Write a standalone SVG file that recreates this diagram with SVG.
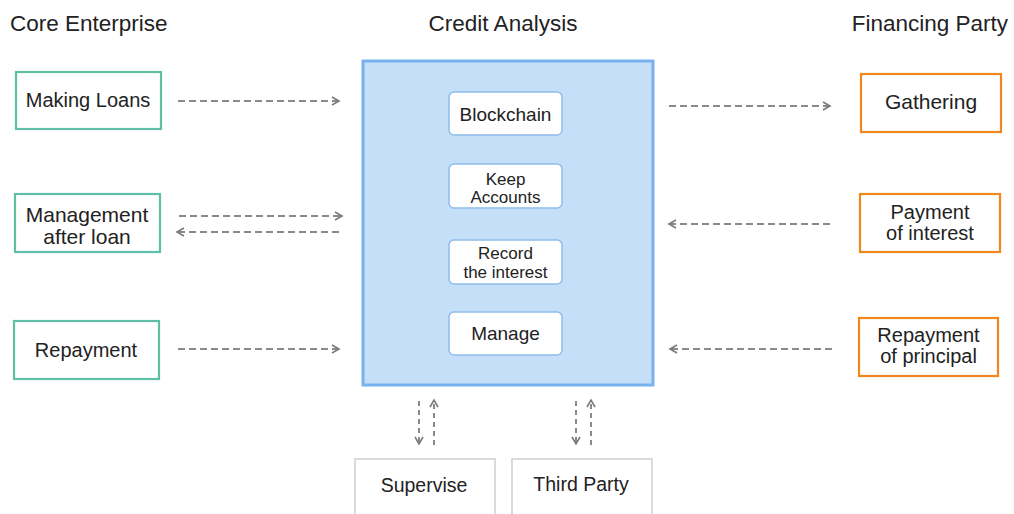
<svg xmlns="http://www.w3.org/2000/svg" width="1014" height="514" viewBox="0 0 1014 514">
  <style>
    text { font-family: "Liberation Sans", Arial, sans-serif; fill: #222; }
    .hdr { font-size: 22.5px; }
    .lbl { font-size: 20px; text-anchor: middle; }
    .small { font-size: 17px; }
    .core { fill: #fff; stroke: #5fbfa6; stroke-width: 2.2; }
    .fin { fill: #fff; stroke: #f0881e; stroke-width: 2.2; }
    .inner { fill: #fff; stroke: #8fbde9; stroke-width: 1.5; }
    .ext { fill: #fff; stroke: #cfcfcf; stroke-width: 1.5; }
    .flow { fill: none; stroke: #8a8a8a; stroke-width: 2; stroke-dasharray: 7 4; }
    .flowv { fill: none; stroke: #8a8a8a; stroke-width: 2; stroke-dasharray: 5 4; }
  </style>
  <defs>
    <marker id="chev" markerUnits="userSpaceOnUse" markerWidth="12" markerHeight="12" refX="8" refY="5" orient="auto">
      <path d="M1,1 L8,5 L1,9" fill="none" stroke="#7a7a7a" stroke-width="1.6"/>
    </marker>
  </defs>

  <!-- column headings -->
  <text class="hdr" x="10" y="31">Core Enterprise</text>
  <text class="hdr" x="503" y="31" text-anchor="middle">Credit Analysis</text>
  <text class="hdr" x="1008" y="31" text-anchor="end">Financing Party</text>

  <!-- core enterprise side -->
  <g id="making-loans">
    <rect class="core" x="16" y="72" width="145" height="57"/>
    <text class="lbl" x="88" y="107">Making Loans</text>
  </g>
  <g id="management-after-loan">
    <rect class="core" x="15" y="194" width="145" height="58"/>
    <text class="lbl" x="87" y="222" style="font-size:21px">Management</text>
    <text class="lbl" x="87" y="244" style="font-size:21px">after loan</text>
  </g>
  <g id="repayment">
    <rect class="core" x="14" y="321" width="145" height="58"/>
    <text class="lbl" x="86" y="357">Repayment</text>
  </g>

  <!-- credit analysis platform -->
  <g id="credit-analysis">
    <rect x="363" y="61" width="290" height="324" fill="#c6dff8" stroke="#78b2ee" stroke-width="3"/>
  </g>
  <g id="blockchain">
    <rect class="inner" x="449" y="92" width="113" height="43" rx="5"/>
    <text class="lbl" x="505.5" y="120.5" style="font-size:19px">Blockchain</text>
  </g>
  <g id="keep-accounts">
    <rect class="inner" x="449" y="164" width="113" height="44" rx="5"/>
    <text class="lbl small" x="505.5" y="184.5">Keep</text>
    <text class="lbl small" x="505.5" y="203">Accounts</text>
  </g>
  <g id="record-the-interest">
    <rect class="inner" x="449" y="240" width="113" height="44" rx="5"/>
    <text class="lbl small" x="505.5" y="259">Record</text>
    <text class="lbl small" x="505.5" y="278">the interest</text>
  </g>
  <g id="manage">
    <rect class="inner" x="449" y="312" width="113" height="43" rx="5"/>
    <text class="lbl" x="505.5" y="339.5" style="font-size:19px">Manage</text>
  </g>

  <!-- financing party side -->
  <g id="gathering">
    <rect class="fin" x="861" y="74" width="140" height="58"/>
    <text class="lbl" x="931" y="109" style="font-size:21px">Gathering</text>
  </g>
  <g id="payment-of-interest">
    <rect class="fin" x="860" y="194" width="140" height="58"/>
    <text class="lbl" x="930" y="219">Payment</text>
    <text class="lbl" x="930" y="240">of interest</text>
  </g>
  <g id="repayment-of-principal">
    <rect class="fin" x="859" y="318" width="139" height="58"/>
    <text class="lbl" x="928.5" y="342">Repayment</text>
    <text class="lbl" x="928.5" y="363">of principal</text>
  </g>

  <!-- external parties -->
  <g id="supervise">
    <rect class="ext" x="355" y="459" width="140" height="70"/>
    <text class="lbl" x="424" y="492" style="font-size:19.5px">Supervise</text>
  </g>
  <g id="third-party">
    <rect class="ext" x="512" y="459" width="140" height="70"/>
    <text class="lbl" x="581" y="491" style="font-size:19.5px">Third Party</text>
  </g>

  <!-- connectors -->
  <g id="connectors">
    <path class="flow" d="M178,101 H339" marker-end="url(#chev)"/>
    <path class="flow" d="M179,216 H342" marker-end="url(#chev)"/>
    <path class="flow" d="M339,232 H177" marker-end="url(#chev)"/>
    <path class="flow" d="M178,349 H339" marker-end="url(#chev)"/>

    <path class="flow" d="M669,106 H830" marker-end="url(#chev)"/>
    <path class="flow" d="M830,224 H669" marker-end="url(#chev)"/>
    <path class="flow" d="M832,349 H670" marker-end="url(#chev)"/>

    <path class="flowv" d="M419,401 V444" marker-end="url(#chev)"/>
    <path class="flowv" d="M434,445 V400" marker-end="url(#chev)"/>
    <path class="flowv" d="M576,401 V444" marker-end="url(#chev)"/>
    <path class="flowv" d="M591,445 V400" marker-end="url(#chev)"/>
  </g>
</svg>
